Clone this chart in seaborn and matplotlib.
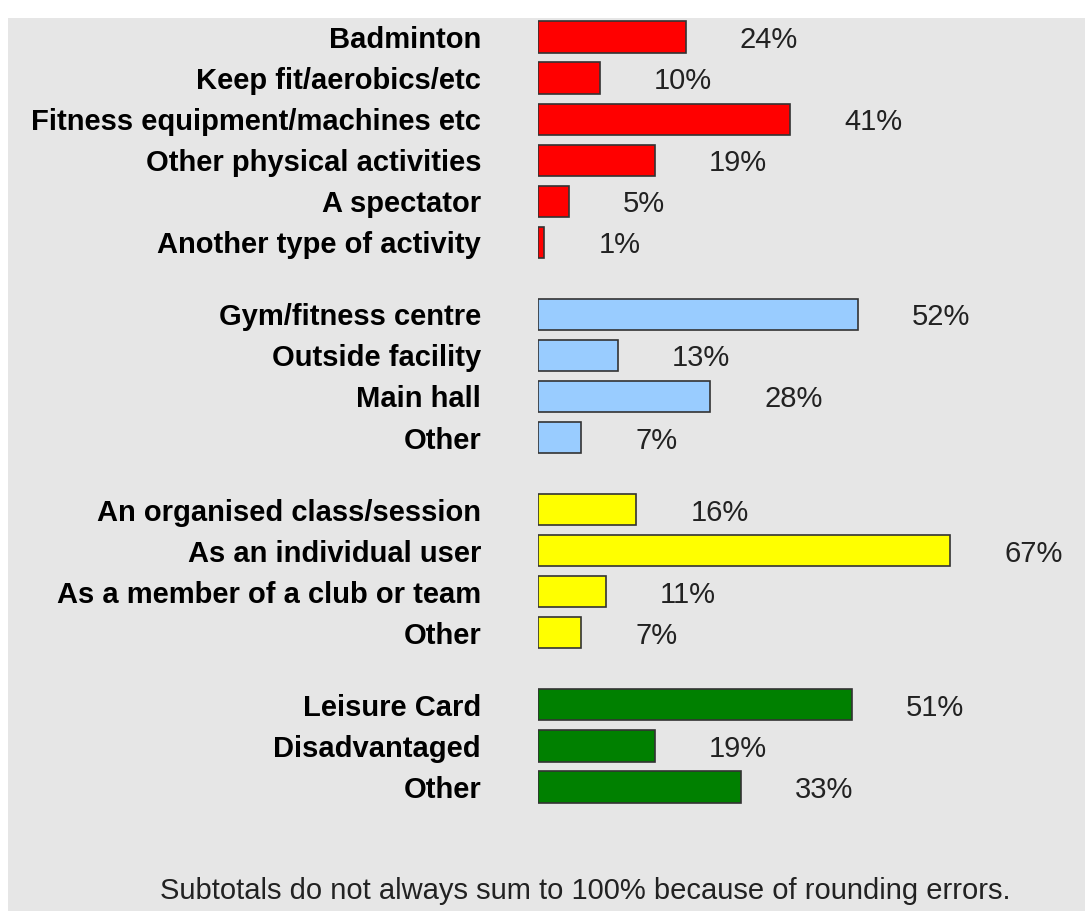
import matplotlib
matplotlib.use("Agg")
import matplotlib.pyplot as plt
import seaborn as sns
import pandas as pd
import numpy as np

# survey answers, one list per group
activity_labels = ["Badminton", "Keep fit/aerobics/etc", "Fitness equipment/machines etc",
                   "Other physical activities", "A spectator", "Another type of activity"]
activity_pct = [24, 10, 41, 19, 5, 1]

area_labels = ["Gym/fitness centre", "Outside facility", "Main hall", "Other"]
area_pct = [52, 13, 28, 7]

usage_labels = ["An organised class/session", "As an individual user",
                "As a member of a club or team", "Other"]
usage_pct = [16, 67, 11, 7]

card_labels = ["Leisure Card", "Disadvantaged", "Other"]
card_pct = [51, 19, 33]

group_names = ["activity", "area", "usage", "card"]
group_colors = {"activity": "#ff0000", "area": "#99ccff", "usage": "#ffff00", "card": "#008000"}
footnote = "Subtotals do not always sum to 100% because of rounding errors."

# build one table with row positions (extra gap between groups)
gap = 0.756
rows = []
pos = 0.0
for gi, (name, labels, vals) in enumerate(zip(group_names,
                                             [activity_labels, area_labels, usage_labels, card_labels],
                                             [activity_pct, area_pct, usage_pct, card_pct])):
    if gi > 0:
        pos += gap
    for lab, v in zip(labels, vals):
        rows.append({"label": lab, "pct": v, "group": name, "pos": pos})
        pos += 1
df = pd.DataFrame(rows)
last = df["pos"].max()

plt.rcParams["font.family"] = ["Liberation Sans", "DejaVu Sans"]

W, H = 1085, 911
fig = plt.figure(figsize=(W / 100, H / 100), dpi=100)
fig.patch.set_facecolor("white")
# grey panel
fig.add_artist(plt.Rectangle((8 / W, 0), 1 - 8 / W, 1 - 18 / H, transform=fig.transFigure,
                             facecolor="#e6e6e6", edgecolor="none", zorder=0))

top_px, bot_px = 37 - 20.5, 787 + 20.5
ax = fig.add_axes([538 / W, 1 - bot_px / H, 90 * 6.15 / W, (bot_px - top_px) / H])
ax.set_facecolor("none")

sns.barplot(data=df, x="pct", y="pos", hue="group", palette=group_colors, orient="h",
            native_scale=True, dodge=False, width=0.76, saturation=1, edgecolor="#333333",
            linewidth=1.2, legend=False, ax=ax)

ax.set_xlim(0, 90)
ax.set_ylim(last + 0.5, -0.5)
ax.set_yticks(df["pos"])
ax.set_yticklabels(df["label"], fontsize=21, fontweight="bold")
for t in ax.get_yticklabels():
    t.set_verticalalignment("center_baseline")
ax.tick_params(axis="y", length=0, pad=41)
ax.set_xticks([])
ax.set_xlabel("")
ax.set_ylabel("")
for s in ax.spines.values():
    s.set_visible(False)

for _, r in df.iterrows():
    ax.annotate(f"{r['pct']}%", (r["pct"], r["pos"]), xytext=(39, 0), textcoords="offset points",
                ha="left", va="center_baseline", fontsize=21, color="#222222")

fig.text(585 / W, 1 - 888 / H, footnote, ha="center", va="center_baseline", fontsize=21,
         color="#222222")

fig.savefig("out.png", dpi=100)
